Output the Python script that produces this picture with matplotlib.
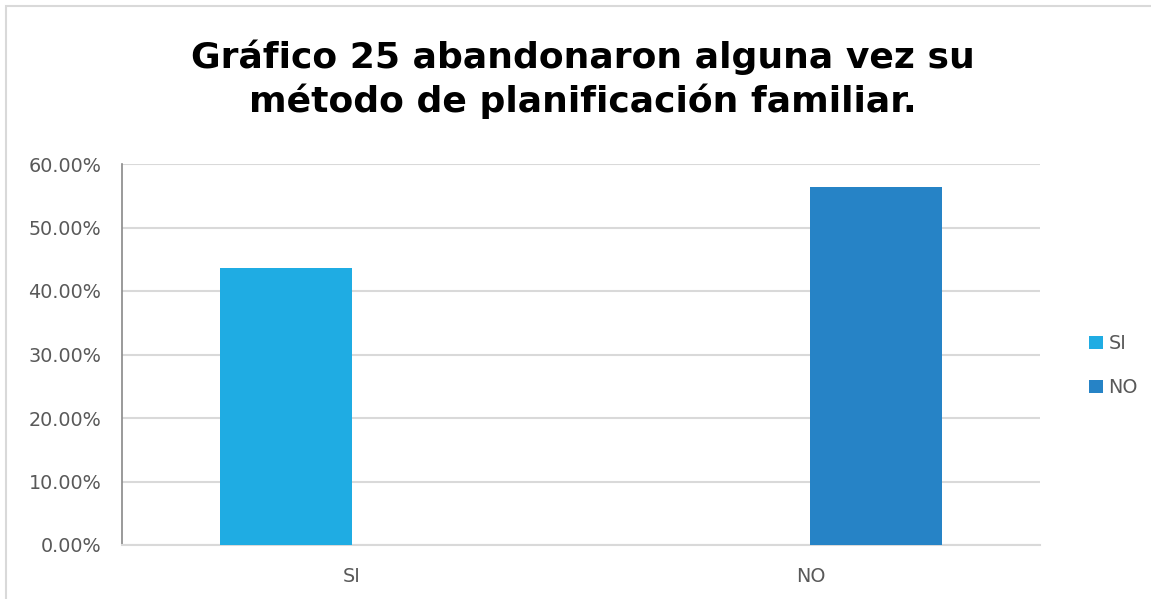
import numpy as np
import matplotlib

matplotlib.use("Agg")
import matplotlib.pyplot as plt
from matplotlib.ticker import PercentFormatter

categories = ["SI", "NO"]
series_names = ["SI", "NO"]
si_values = [43.59, 0.0]
no_values = [0.0, 56.41]
y_ticks = [0, 10, 20, 30, 40, 50, 60]

plt.rcParams["font.family"] = ["DejaVu Sans"]

colors = ["#1FACE3", "#2683C6"]
text_color = "#595959"

fig = plt.figure(figsize=(11.51, 5.99), dpi=100)
ax = fig.add_axes([122 / 1151, 54 / 599, 918 / 1151, 381 / 599])

x = np.arange(len(categories))
width = 0.288
offset = 0.143
ax.bar(x - offset, si_values, width, color=colors[0], label=series_names[0], zorder=3)
ax.bar(x + offset, no_values, width, color=colors[1], label=series_names[1], zorder=3)

ax.set_xlim(-0.5, 1.5)
ax.set_ylim(0, 60)
ax.set_yticks(y_ticks)
ax.yaxis.set_major_formatter(PercentFormatter(decimals=2))
ax.set_xticks(x)
ax.set_xticklabels(categories)
ax.grid(axis="y", color="#D9D9D9", linewidth=1.5, zorder=0)
ax.tick_params(axis="both", length=0, labelsize=13.8, colors=text_color, pad=15)
ax.tick_params(axis="x", pad=16)

for side in ["top", "right"]:
    ax.spines[side].set_visible(False)
ax.spines["left"].set_color("#898989")
ax.spines["left"].set_linewidth(1.2)
ax.spines["bottom"].set_color("#D9D9D9")
ax.spines["bottom"].set_linewidth(1.5)

fig.text(0.506, 0.867, "Gráfico 25 abandonaron alguna vez su\nmétodo de planificación familiar.",
         ha="center", va="center", fontsize=26, fontweight="bold", color="black",
         linespacing=1.3)

leg = ax.legend(loc="center left", bbox_to_anchor=(1.035, 0.47), frameon=False,
                fontsize=13.8, handlelength=0.7, handleheight=0.7, handletextpad=0.3,
                labelspacing=1.3, labelcolor=text_color)

border = plt.Rectangle((6 / 1151, -0.01), 1.2, 1 - 6 / 599 + 0.01, transform=fig.transFigure,
                       fill=False, edgecolor="#D9D9D9", linewidth=1.5)
fig.add_artist(border)

fig.savefig("out.png", dpi=100)
